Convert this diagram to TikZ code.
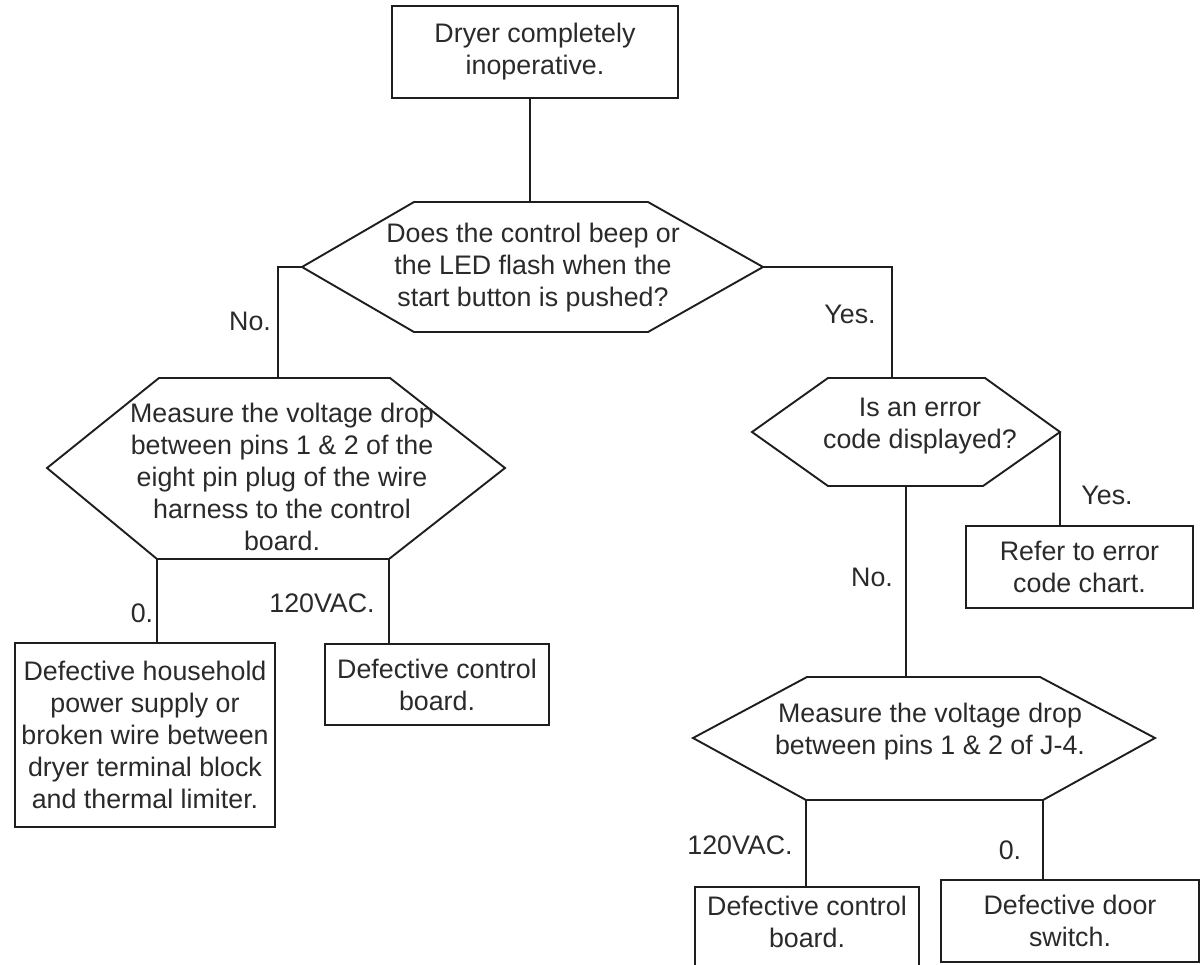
\documentclass[tikz,border=0pt]{standalone}
\usepackage{fontspec}
\setmainfont{Liberation Sans}
\definecolor{ink}{HTML}{1E1E1E}
\definecolor{txt}{HTML}{2A2A2A}
\begin{document}
\begin{tikzpicture}[x=1pt,y=-1pt,
  every node/.style={font=\fontsize{26.8}{32}\selectfont, text=txt},
  box/.style={draw=ink, line width=2.9pt, inner sep=0pt, align=center},
  hexline/.style={draw=ink, line width=1.9pt, line join=miter},
  hextext/.style={inner sep=0pt, align=center},
  wire/.style={draw=ink, line width=2.9pt},
  lbl/.style={inner sep=0pt}]
\useasboundingbox (0,0) rectangle (1204,964);
\clip (0,0) rectangle (1204,964);

% start box
\node[box, minimum width=286, minimum height=92] (start) at (535,52) {Dryer completely\\inoperative.};

% question 1
\coordinate (q1W) at (302,267);
\coordinate (q1E) at (763,267);
\coordinate (q1N) at (530,202);
\draw[hexline] (q1W) -- (414,202) -- (648,202) -- (q1E) -- (648,332) -- (414,332) -- cycle;
\node[hextext] (q1) at (533,268) {Does the control beep or\\the LED flash when the\\start button is pushed?};

% question 2 (left)
\coordinate (q2W) at (47,468);
\coordinate (q2E) at (505,468);
\coordinate (q2N) at (278,378);
\coordinate (q2SL) at (157,559);
\coordinate (q2SR) at (389,559);
\draw[hexline] (q2W) -- (159,378) -- (390,378) -- (q2E) -- (q2SR) -- (q2SL) -- cycle;
\node[hextext] (q2) at (282,477) {Measure the voltage drop\\between pins 1 \& 2 of the\\eight pin plug of the wire\\harness to the control\\board.};

% left results
\node[box, minimum width=260, minimum height=184] (r1) at (145,735) {Defective household\\power supply or\\broken wire between\\dryer terminal block\\and thermal limiter.};
\node[box, minimum width=224, minimum height=81] (r2) at (437,684.5) {Defective control\\board.};

% question 3 (right)
\coordinate (q3W) at (752,432);
\coordinate (q3E) at (1060,432);
\coordinate (q3N) at (892,378);
\coordinate (q3S) at (906,486);
\draw[hexline] (q3W) -- (828,378) -- (985,378) -- (q3E) -- (983,486) -- (828,486) -- cycle;
\node[hextext] (q3) at (920,426) {Is an error\\code displayed?};

\node[box, minimum width=227, minimum height=82] (r3) at (1079.5,567) {Refer to error\\code chart.};

% question 4
\coordinate (q4W) at (693,738);
\coordinate (q4E) at (1155,738);
\coordinate (q4N) at (906,677);
\coordinate (q4SL) at (806,800);
\coordinate (q4SR) at (1043,800);
\draw[hexline] (q4W) -- (807,677) -- (1040,677) -- (q4E) -- (q4SR) -- (q4SL) -- cycle;
\node[hextext] (q4) at (930,732) {Measure the voltage drop\\between pins 1 \& 2 of J-4.};

\node[box, minimum width=224, minimum height=93] (r4) at (807,933.5) {};
\node[hextext] (r4t) at (807,922) {Defective control\\board.};
\node[box, minimum width=258, minimum height=82] (r5) at (1070,921) {Defective door\\switch.};

% connectors
\draw[wire] (q1N |- start.south) -- (q1N);
\draw[wire] (q1W) -- (q1W -| q2N) -- (q2N);
\draw[wire] (q1E) -- (q1E -| q3N) -- (q3N);
\draw[wire] (q2SL) -- (q2SL |- r1.north);
\draw[wire] (q2SR) -- (q2SR |- r2.north);
\draw[wire] (q3E) -- (q3E |- r3.north);
\draw[wire] (q3S) -- (q4N);
\draw[wire] (q4SL) -- (q4SL |- r4.north);
\draw[wire] (q4SR) -- (q4SR |- r5.north);

% labels
\node[lbl] (lNo1) at (250,321) {No.};
\node[lbl] (lYes1) at (850,314) {Yes.};
\node[lbl] (l0a) at (142,613) {0.};
\node[lbl] (l120a) at (322,603) {120VAC.};
\node[lbl] (lYes2) at (1107,495) {Yes.};
\node[lbl] (lNo2) at (872,577) {No.};
\node[lbl] (l120b) at (740,845) {120VAC.};
\node[lbl] (l0b) at (1010,850) {0.};
\end{tikzpicture}
\end{document}
